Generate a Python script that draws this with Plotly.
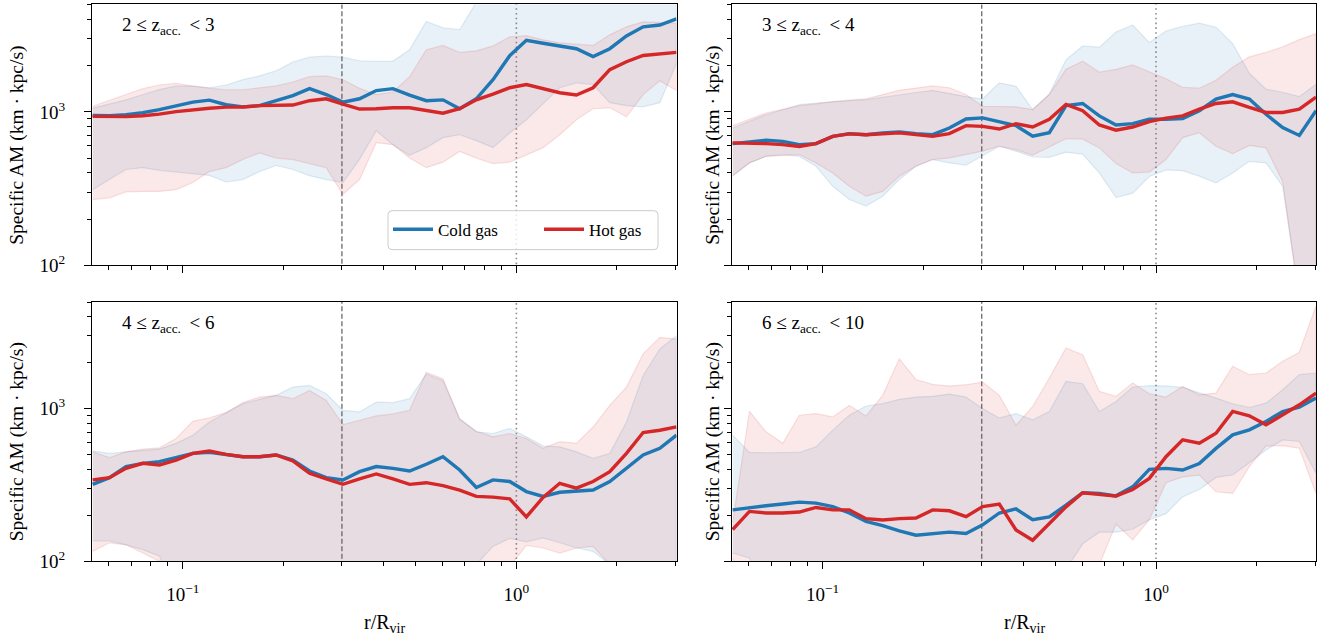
import plotly.graph_objects as go

# ---------------- data ----------------
R_GRID = [0.0537, 0.0603, 0.0676, 0.0759, 0.0851, 0.0955, 0.1072, 0.1202, 0.1349,
          0.1514, 0.1698, 0.1905, 0.2138, 0.2399, 0.2692, 0.3020, 0.3388, 0.3802,
          0.4266, 0.4786, 0.5370, 0.6026, 0.6761, 0.7586, 0.8511, 0.9550, 1.0715,
          1.2023, 1.3490, 1.5136, 1.6982, 1.9055, 2.1380, 2.3988, 2.6915, 3.0200]

R_INNER = 0.3   # dashed line
R_VIR = 1.0     # dotted line

PANEL_LABELS = ["2 ≤ z<sub>acc.</sub>\u2009 < 3", "3 ≤ z<sub>acc.</sub>\u2009 < 4",
                "4 ≤ z<sub>acc.</sub>\u2009 < 6", "6 ≤ z<sub>acc.</sub>\u2009 < 10"]

# panel 1 : 2 <= z < 3
cold_med_1 = [950, 945, 960, 990, 1035, 1100, 1160, 1195, 1115, 1080, 1100, 1185, 1280, 1420, 1300, 1160, 1220, 1380,
              1420, 1290, 1185, 1200, 1050, 1220, 1625, 2330, 2940, 2810, 2700, 2590, 2300, 2590, 3140, 3600, 3700, 4050]
cold_lo_1 = [311, 362, 421, 433, 416, 405, 396, 385, 349, 362, 408, 447, 421, 384, 362, 346, 490, 755,
             612, 522, 585, 680, 710, 650, 585, 730, 890, 1130, 1440, 1550, 1510, 1150, 1100, 1080, 1150, 2070]
cold_hi_1 = [1060, 1130, 1200, 1300, 1400, 1480, 1480, 1440, 1500, 1625, 1720, 1860, 2120, 2280, 2320, 2280, 2160, 2140,
             2150, 2550, 3900, 3550, 3450, 5200, 8000, 8000, 8000, 8000, 8000, 8000, 8000, 8000, 8000, 8000, 8000, 8000]
hot_med_1 = [936, 932, 932, 946, 968, 1005, 1035, 1058, 1075, 1078, 1100, 1110, 1110, 1185, 1220, 1125, 1045, 1050,
             1065, 1065, 1020, 982, 1050, 1200, 1310, 1440, 1510, 1420, 1335, 1290, 1440, 1890, 2130, 2340, 2380, 2450]
hot_lo_1 = [268, 275, 301, 303, 303, 311, 346, 408, 433, 489, 540, 500, 489, 459, 433, 290, 362, 630,
            612, 500, 433, 470, 553, 500, 460, 470, 527, 585, 710, 890, 1050, 1065, 930, 1300, 1600, 1380]
hot_hi_1 = [1090, 1185, 1300, 1420, 1500, 1540, 1475, 1430, 1397, 1397, 1440, 1480, 1570, 1700, 1720, 1625, 1430, 1300,
            1350, 1700, 2550, 2720, 2450, 2510, 2700, 3100, 3150, 2960, 2830, 2780, 2720, 3190, 3600, 3880, 3860, 3800]

# panel 2 : 3 <= z < 4
cold_med_2 = [621, 634, 653, 643, 612, 621, 693, 722, 711, 730, 741, 722, 711, 786, 900, 915, 868, 814,
              696, 732, 1100, 1137, 943, 823, 840, 897, 897, 905, 1020, 1215, 1300, 1215, 967, 790, 703, 1020]
cold_lo_2 = [380, 465, 513, 527, 513, 442, 327, 268, 243, 282, 362, 442, 489, 465, 449, 518, 597, 555,
             508, 506, 546, 530, 400, 276, 295, 379, 418, 414, 381, 344, 400, 476, 465, 327, 60, 40]
cold_hi_2 = [786, 868, 960, 1035, 1116, 1145, 1170, 1185, 1203, 1250, 1300, 1340, 1384, 1320, 1260, 1215, 1550, 1470,
             1035, 1310, 2190, 2700, 2650, 3330, 3700, 2840, 3380, 3620, 3800, 3580, 2800, 1790, 1410, 1345, 1260, 1520]
hot_med_2 = [628, 628, 621, 612, 595, 621, 693, 719, 711, 719, 730, 711, 693, 722, 814, 806, 774, 838,
             798, 897, 1120, 1020, 823, 760, 798, 866, 911, 943, 1044, 1137, 1166, 1071, 993, 993, 1044, 1250]
hot_lo_2 = [385, 465, 513, 520, 527, 465, 400, 327, 282, 303, 380, 442, 489, 501, 527, 555, 597, 568,
            522, 593, 670, 665, 583, 460, 400, 405, 489, 680, 732, 598, 534, 605, 583, 352, 60, 40]
hot_hi_2 = [814, 900, 985, 1040, 1100, 1130, 1170, 1195, 1220, 1300, 1384, 1433, 1480, 1440, 1300, 1090, 1080, 1080,
            1038, 1300, 1900, 2150, 1820, 1900, 2030, 1840, 1650, 1450, 1430, 1610, 1960, 2290, 2450, 2660, 2970, 3250]

# panel 3 : 4 <= z < 6
cold_med_3 = [319, 353, 417, 438, 449, 477, 509, 517, 501, 484, 484, 497, 460, 390, 353, 341, 386, 417,
              406, 390, 432, 484, 396, 304, 341, 333, 286, 266, 283, 289, 293, 333, 406, 497, 549, 670]
cold_lo_3 = [136, 136, 128, 119, 108, 60, 60, 60, 60, 60, 60, 60, 60, 60, 60, 60, 60, 60,
             60, 60, 60, 60, 60, 95, 125, 141, 134, 142, 132, 122, 116, 95, 70, 60, 60, 60]
cold_hi_3 = [527, 509, 521, 535, 543, 592, 670, 818, 942, 1078, 1151, 1222, 1385, 1420, 1252, 975, 951, 1105,
             1095, 1162, 1690, 1530, 861, 705, 687, 741, 653, 571, 562, 521, 472, 509, 818, 1650, 2460, 3010]
hot_med_3 = [341, 353, 406, 438, 427, 460, 509, 527, 501, 484, 484, 497, 454, 377, 346, 319, 346, 373,
             346, 319, 327, 313, 292, 266, 263, 256, 195, 262, 324, 301, 333, 386, 509, 697, 722, 759]
hot_lo_3 = [116, 132, 128, 113, 100, 60, 60, 60, 60, 60, 60, 60, 60, 60, 60, 60, 60, 60,
            60, 60, 60, 60, 60, 80, 85, 92, 127, 122, 113, 122, 125, 95, 70, 60, 60, 60]
hot_hi_3 = [521, 477, 521, 543, 553, 637, 826, 869, 942, 1095, 1191, 1222, 1162, 1317, 1133, 787, 839, 896,
            923, 975, 1733, 1570, 852, 711, 653, 687, 637, 549, 607, 592, 758, 1051, 1385, 2285, 2930, 2860]

# panel 4 : 6 <= z < 10
cold_med_4 = [217, 225, 231, 237, 244, 240, 228, 207, 182, 171, 158, 148, 151, 155, 152, 173, 207, 220,
              187, 195, 233, 281, 278, 268, 307, 400, 406, 396, 437, 549, 673, 726, 824, 958, 1023, 1173]
cold_lo_4 = [113, 105, 60, 60, 60, 60, 60, 60, 60, 60, 60, 60, 60, 60, 60, 60, 60, 60,
             60, 60, 90, 130, 155, 155, 162, 187, 205, 264, 295, 354, 367, 442, 536, 624, 609, 376]
cold_hi_4 = [670, 516, 514, 516, 516, 562, 723, 905, 1041, 1078, 1151, 1191, 1204, 1246, 1191, 1000, 869, 928,
             844, 958, 1510, 1457, 958, 1115, 1386, 1414, 1410, 1378, 1278, 1173, 1076, 1018, 1087, 1330, 1670, 1713]
hot_med_4 = [161, 212, 207, 207, 210, 225, 217, 217, 190, 186, 190, 192, 217, 214, 196, 228, 237, 160,
             137, 176, 227, 281, 274, 267, 295, 349, 484, 624, 593, 690, 958, 897, 783, 910, 1060, 1265]
hot_lo_4 = [105, 60, 60, 60, 60, 60, 60, 60, 60, 60, 60, 60, 60, 60, 60, 60, 60, 60,
            60, 60, 60, 60, 95, 175, 138, 187, 327, 357, 367, 285, 278, 417, 570, 572, 550, 278]
hot_hi_4 = [180, 961, 705, 592, 905, 928, 883, 1051, 896, 1222, 2120, 1553, 1442, 1405, 1435, 1493, 1222, 778,
            1033, 1588, 2500, 2260, 1297, 1203, 1472, 1252, 1190, 1400, 1233, 1265, 1895, 1670, 1713, 2046, 2344, 4710]

PANELS = [
    (cold_med_1, cold_lo_1, cold_hi_1, hot_med_1, hot_lo_1, hot_hi_1),
    (cold_med_2, cold_lo_2, cold_hi_2, hot_med_2, hot_lo_2, hot_hi_2),
    (cold_med_3, cold_lo_3, cold_hi_3, hot_med_3, hot_lo_3, hot_hi_3),
    (cold_med_4, cold_lo_4, cold_hi_4, hot_med_4, hot_lo_4, hot_hi_4),
]

SERIES_NAMES = ["Cold gas", "Hot gas"]
X_TICKS = [0.1, 1.0]
X_TICKTEXT = ["10<sup>−1</sup>", "10<sup>0</sup>"]
Y_TICKS = [100, 1000]
Y_TICKTEXT = ["10<sup>2</sup>", "10<sup>3</sup>"]
Y_TITLE = "Specific AM (km · kpc/s)"
X_TITLE = "r/R<sub>vir</sub>"

# ---------------- style ----------------
FONT = "Liberation Serif, Times New Roman, serif"
BLUE = "31,119,180"
RED = "214,39,40"
W, H = 1323, 640
YS = 1.016  # vertical pixel correction


def py(v):
    return v * YS


X_MINOR = [0.06, 0.07, 0.08, 0.09, 0.2, 0.3, 0.4, 0.5, 0.6, 0.7, 0.8, 0.9, 2, 3]
Y_MINOR = [200, 300, 400, 500, 600, 700, 800, 900, 2000, 3000, 4000, 5000]

COLS = [(92, 676.5), (732, 1316)]
ROWS = [(4.5, 265.5), (302, 562)]

fig = go.Figure()

for i, (cm, cl, ch, hm, hl, hh) in enumerate(PANELS):
    suf = "" if i == 0 else str(i + 1)
    xa, ya = "x" + suf, "y" + suf
    common = dict(xaxis=xa, yaxis=ya, hoverinfo="skip")
    fig.add_trace(go.Scatter(x=[R_INNER, R_INNER], y=[1, 1e6], mode="lines",
                             line=dict(color="rgba(0,0,0,0.55)", width=1.4, dash="5px,2.5px"),
                             showlegend=False, **common))
    fig.add_trace(go.Scatter(x=[R_VIR, R_VIR], y=[1, 1e6], mode="lines",
                             line=dict(color="rgba(0,0,0,0.45)", width=1.6, dash="1.6px,3.2px"),
                             showlegend=False, **common))
    for lo, hi, rgb in [(cl, ch, BLUE), (hl, hh, RED)]:
        fig.add_trace(go.Scatter(x=R_GRID + R_GRID[::-1], y=hi + lo[::-1], mode="lines",
                                 fill="toself", fillcolor=f"rgba({rgb},0.10)",
                                 line=dict(color=f"rgba({rgb},0.13)", width=1.2),
                                 showlegend=False, **common))
    for med, rgb, name in [(cm, BLUE, SERIES_NAMES[0]), (hm, RED, SERIES_NAMES[1])]:
        fig.add_trace(go.Scatter(x=R_GRID, y=med, mode="lines", name=name,
                                 line=dict(color=f"rgb({rgb})", width=3.4),
                                 showlegend=(i == 0), **common))

# legend frame drawn as a rounded rectangle (paper coords)
LX0, LX1, LY0, LY1, RAD = 388, 658, 211, 250, 4


def fx(v):
    return v / W


def fy(v):
    return 1 - py(v) / H


legend_path = (
    f"M {fx(LX0 + RAD)},{fy(LY0)} L {fx(LX1 - RAD)},{fy(LY0)} "
    f"Q {fx(LX1)},{fy(LY0)} {fx(LX1)},{fy(LY0 + RAD)} "
    f"L {fx(LX1)},{fy(LY1 - RAD)} Q {fx(LX1)},{fy(LY1)} {fx(LX1 - RAD)},{fy(LY1)} "
    f"L {fx(LX0 + RAD)},{fy(LY1)} Q {fx(LX0)},{fy(LY1)} {fx(LX0)},{fy(LY1 - RAD)} "
    f"L {fx(LX0)},{fy(LY0 + RAD)} Q {fx(LX0)},{fy(LY0)} {fx(LX0 + RAD)},{fy(LY0)} Z"
)

layout = dict(
    width=W, height=H,
    margin=dict(l=0, r=0, t=0, b=0),
    paper_bgcolor="white", plot_bgcolor="white",
    font=dict(family=FONT, size=19, color="black"),
    showlegend=True,
    legend=dict(x=fx(LX0), y=fy(LY0 + 1), xanchor="left", yanchor="top",
                orientation="h", bgcolor="rgba(0,0,0,0)",
                borderwidth=0,
                font=dict(family=FONT, size=17), entrywidth=96,
                tracegroupgap=0, itemwidth=40),
    shapes=[dict(type="path", path=legend_path, xref="paper", yref="paper",
                 fillcolor="rgba(255,255,255,0.8)", line=dict(color="#cccccc", width=1),
                 layer="above")],
)

annotations = []
for i in range(4):
    r, c = divmod(i, 2)
    suf = "" if i == 0 else str(i + 1)
    x0, x1 = COLS[c]
    y0, y1 = ROWS[r]
    layout["xaxis" + suf] = dict(
        type="log", range=[-1.272, 0.480], domain=[x0 / W, x1 / W],
        anchor="y" + suf, showgrid=False, zeroline=False,
        showline=True, linecolor="black", linewidth=1.3, mirror=True,
        ticks="outside", ticklen=7, tickwidth=1.1, tickcolor="black",
        tickmode="array", tickvals=X_TICKS, ticktext=X_TICKTEXT,
        showticklabels=(r == 1), ticklabelstandoff=9,
        minor=dict(tickmode="array", tickvals=X_MINOR, ticks="outside",
                   ticklen=4, tickwidth=0.9, tickcolor="black"),
    )
    layout["yaxis" + suf] = dict(
        type="log", range=[2, 3.702], domain=[1 - py(y1) / H, 1 - py(y0) / H],
        anchor="x" + suf, showgrid=False, zeroline=False,
        showline=True, linecolor="black", linewidth=1.3, mirror=True,
        ticks="outside", ticklen=7, tickwidth=1.1, tickcolor="black",
        tickmode="array", tickvals=Y_TICKS, ticktext=Y_TICKTEXT,
        showticklabels=(c == 0), ticklabelstandoff=15,
        minor=dict(tickmode="array", tickvals=Y_MINOR, ticks="outside",
                   ticklen=4, tickwidth=0.9, tickcolor="black"),
    )
    annotations.append(dict(text=PANEL_LABELS[i], xref="paper", yref="paper",
                            x=(x0 + 28) / W, y=1 - py(y0 + 22) / H,
                            xanchor="left", yanchor="middle", showarrow=False,
                            font=dict(family=FONT, size=19)))
    tx = x0 - (75 if c == 0 else 19)
    annotations.append(dict(text=Y_TITLE, xref="paper", yref="paper",
                            x=tx / W, y=1 - py((y0 + y1) / 2 + 11) / H, textangle=-90,
                            xanchor="center", yanchor="middle", showarrow=False,
                            font=dict(family=FONT, size=19.5)))
    if r == 1:
        annotations.append(dict(text=X_TITLE, xref="paper", yref="paper",
                                x=(x0 + x1) / 2 / W, y=1 - py(624) / H,
                                xanchor="center", yanchor="middle", showarrow=False,
                                font=dict(family=FONT, size=20)))

layout["annotations"] = annotations
fig.update_layout(**layout)
fig.write_html("out.html")
